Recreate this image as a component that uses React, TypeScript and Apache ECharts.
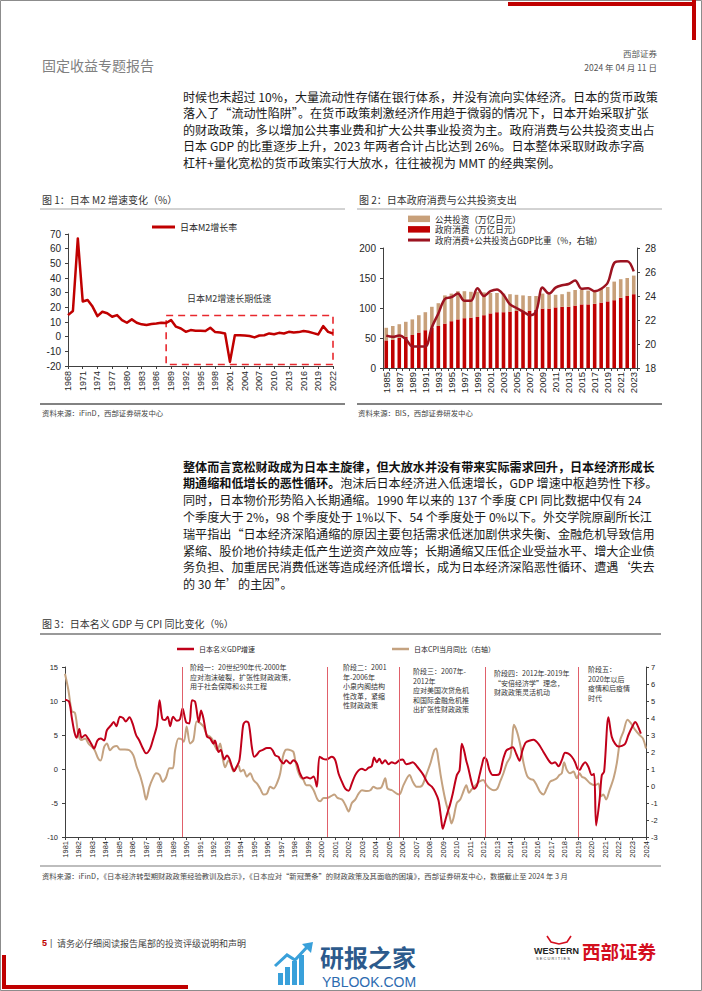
import React, { useEffect, useRef } from 'react';
import * as echarts from 'echarts';

const RED = '#C00000';
const TAN = '#C8A07A';
const DARK_RED = '#9C1320';
const LINE_RED = '#C0001A';
const LINE_TAN = '#C4A280';
const CJK = '"Noto Sans CJK SC", "Liberation Sans", sans-serif';
const NUM = '"Liberation Sans", "Noto Sans CJK SC", sans-serif';

function yearRange(a: number, b: number): string[] {
  const r: string[] = [];
  for (let y = a; y <= b; y++) r.push(String(y));
  return r;
}

// ---------- Figure 1: Japan M2 growth (%) ----------
const m2Years = yearRange(1968, 2022);
const m2Growth = [
  14.7, 17.5, 67, 24, 25, 20.5, 14, 17, 16, 13.6,
  14.7, 11.3, 9.5, 11.8, 9.5, 8.4, 7.9, 8.6, 9.0, 9.5,
  9.3, 11.3, 6.8, 5.6, 3.3, 4.5, 4.0, 4.0, 3.8, 6.1,
  3.1, 2.9, 2.2, -17.2, 1.0, 1.0, 0.8, 0.4, -0.5, 0.8,
  1.0, 2.2, 1.7, 2.6, 2.2, 3.3, 2.9, 3.1, 3.8, 3.3,
  2.4, 1.5, 7.2, 3.3, 2.2,
];
const m2LowBoxX = ['1988', '2022'];
const m2LowBoxY = [14.4, -19];

// ---------- Figure 2: government consumption & public investment ----------
const govYears = yearRange(1985, 2023);
const govConsumption = [
  46, 47, 50, 52, 55, 59, 63, 67, 70, 74,
  78, 81, 83, 84, 85, 88, 91, 93, 93, 94,
  95, 95, 95, 97, 99, 99, 101, 102, 102, 104,
  106, 106, 107, 109, 111, 113, 117, 120, 123,
];
const publicInvestment = [
  21, 23, 23, 25, 26, 29, 30, 35, 38, 47,
  46, 47, 45, 43, 42, 38, 34, 32, 31, 29,
  27, 26, 25, 23, 25, 23, 21, 21, 25, 26,
  24, 23, 23, 23, 24, 31, 31, 30, 31,
];
const govShareOfGDP = [
  20.7, 20.6, 20.7, 20.4, 19.8, 19.8, 19.8, 21.4, 22.55, 23.75,
  23.9, 24.2, 23.6, 23.6, 24.65, 24.0, 24.4, 24.55, 24.1, 23.3,
  23.0, 22.7, 22.4, 22.7, 24.7, 24.2, 24.7, 24.9, 25.0, 25.3,
  24.6, 24.65, 24.4, 24.6, 25.1, 26.75, 26.9, 26.9, 26.05,
];

// ---------- Figure 3: nominal GDP & CPI YoY ----------
const phaseStarts = [1989.67, 2000.42, 2005.75, 2012.08, 2019.0];
const gdpNominalYoY: [number, number][] = [
  [1981.0, 10.2], [1981.3, 9.9], [1981.5, 7.6], [1981.7, 5.4], [1981.86, 4.6], [1982.06, 5.9], [1982.23, 4.6],
  [1982.5, 5.0], [1982.7, 4.5], [1983.0, 3.5], [1983.15, 3.0], [1983.4, 4.2], [1983.64, 4.5], [1983.9, 4.2],
  [1984.1, 5.7], [1984.4, 6.4], [1984.6, 6.9], [1984.8, 6.3], [1985.07, 7.7], [1985.3, 7.5], [1985.5, 7.0],
  [1985.77, 7.6], [1986.0, 6.7], [1986.26, 5.0], [1986.5, 4.2], [1986.75, 3.1], [1987.0, 2.3], [1987.3, 3.0],
  [1987.54, 4.5], [1987.8, 6.4], [1988.0, 10.1], [1988.2, 7.4], [1988.4, 7.2], [1988.6, 7.7], [1988.78, 6.3],
  [1989.0, 7.7], [1989.27, 7.1], [1989.5, 7.3], [1989.7, 8.9], [1989.96, 6.9], [1990.2, 6.7], [1990.4, 10.1],
  [1990.63, 9.9], [1990.9, 6.9], [1991.07, 8.6], [1991.25, 7.4], [1991.5, 4.8], [1991.74, 4.5], [1992.0, 3.7],
  [1992.1, 4.2], [1992.36, 2.5], [1992.53, 2.8], [1992.78, 1.4], [1992.98, 2.0], [1993.17, 1.5], [1993.35, 0.4],
  [1993.52, -0.3], [1993.72, 0.4], [1993.91, 1.3], [1994.09, 4.7], [1994.21, 6.6], [1994.41, 7.0], [1994.58, 6.8],
  [1994.7, 5.4], [1994.83, 3.2], [1995.0, 1.8], [1995.2, 2.1], [1995.4, 2.6], [1995.64, 2.8], [1995.94, 3.1],
  [1996.19, 3.1], [1996.38, 2.7], [1996.56, 2.0], [1996.8, 1.8], [1996.93, 1.3], [1997.17, 0.8], [1997.37, 1.3],
  [1997.67, 0.8], [1997.9, 1.3], [1998.16, 0.8], [1998.4, -0.7], [1998.65, -1.4], [1998.9, -1.2], [1999.15, -1.4],
  [1999.4, -1.1], [1999.64, -2.6], [1999.84, 1.8], [2000.1, 1.5], [2000.33, 1.4], [2000.75, 1.8], [2001.0, 1.3],
  [2001.25, -0.7], [2001.5, -1.9], [2001.74, -2.9], [2001.99, -3.2], [2002.23, -2.1], [2002.48, -0.9],
  [2002.73, -0.2], [2002.98, 0.05], [2003.22, -0.2], [2003.47, 0.2], [2003.7, 0.4], [2003.88, 1.7], [2004.07, 1.0],
  [2004.27, 1.5], [2004.47, 0.8], [2004.69, 1.3], [2004.94, 0.7], [2005.19, 1.0], [2005.43, 0.8], [2005.75, 1.3],
  [2006.0, 1.4], [2006.25, 0.7], [2006.5, 0.8], [2006.74, 1.0], [2007.04, 0.4], [2007.28, -0.2], [2007.53, -0.9],
  [2007.73, -1.7], [2007.9, -2.2], [2008.15, -2.6], [2008.4, -3.4], [2008.64, -4.6], [2008.82, -7.0],
  [2008.96, -8.8], [2009.14, -7.6], [2009.31, -6.4], [2009.5, -5.2], [2009.7, -3.6], [2010.0, -0.9],
  [2010.2, -0.2], [2010.37, 3.7], [2010.54, 2.7], [2010.69, 1.3], [2010.86, 0.05], [2011.11, -2.1],
  [2011.28, -2.9], [2011.48, -2.5], [2011.68, -0.9], [2011.85, 0.5], [2012.03, 1.7], [2012.22, 1.3],
  [2012.42, -0.2], [2012.67, -0.9], [2012.91, -0.9], [2013.16, -0.7], [2013.41, 1.3], [2013.65, 2.7],
  [2013.9, 3.0], [2014.15, 3.2], [2014.4, 2.2], [2014.64, 1.2], [2014.85, 2.7], [2015.1, 3.9], [2015.42, 4.2],
  [2015.67, 4.3], [2016.04, 3.7], [2016.41, 2.5], [2016.78, 1.3], [2017.03, 0.8], [2017.27, 1.0], [2017.52, 0.4],
  [2017.77, 1.3], [2018.01, 2.4], [2018.26, 2.25], [2018.51, 1.8], [2018.75, 1.0], [2018.93, 0.05], [2019.1, -0.1],
  [2019.25, 0.4], [2019.5, 1.0], [2019.74, 0.3], [2019.99, -0.9], [2020.16, -0.7], [2020.31, -8.3],
  [2020.56, -4.6], [2020.73, -0.9], [2020.9, -0.4], [2021.22, 7.6], [2021.47, 4.7], [2021.72, 3.7],
  [2021.96, 3.3], [2022.21, 3.4], [2022.46, 3.7], [2022.7, 5.0], [2023.03, 6.4], [2023.2, 6.9], [2023.33, 6.6],
  [2023.62, 5.2],
];
const cpiYoY: [number, number][] = [
  [1981.0, 6.6], [1981.25, 5.65], [1981.5, 4.4], [1981.74, 4.3], [1982.0, 3.0], [1982.23, 2.7], [1982.5, 2.8],
  [1982.73, 2.5], [1983.0, 2.3], [1983.2, 2.1], [1983.47, 1.6], [1983.64, 1.5], [1983.9, 2.3], [1984.1, 2.5],
  [1984.33, 2.1], [1984.58, 2.3], [1984.83, 2.35], [1985.07, 2.15], [1985.44, 2.15], [1985.77, 2.1],
  [1986.06, 1.8], [1986.3, 1.15], [1986.56, 0.6], [1986.8, -0.1], [1987.0, -0.8], [1987.25, -0.05],
  [1987.5, 0.45], [1987.74, 0.75], [1988.0, 0.65], [1988.23, 0.25], [1988.48, 0.5], [1988.73, 1.05],
  [1988.98, 1.05], [1989.15, 2.1], [1989.4, 2.8], [1989.64, 2.75], [1989.8, 2.6], [1990.0, 3.5], [1990.26, 2.5],
  [1990.5, 2.7], [1990.75, 3.8], [1991.0, 3.7], [1991.25, 3.5], [1991.5, 3.0], [1991.74, 2.9], [1991.94, 2.7],
  [1992.1, 2.35], [1992.28, 2.1], [1992.48, 2.5], [1992.68, 1.6], [1992.85, 1.1], [1993.1, 1.5], [1993.35, 1.1],
  [1993.47, 0.85], [1993.67, 1.1], [1993.84, 1.2], [1994.0, 0.85], [1994.2, 0.95], [1994.46, 0.55], [1994.7, 0.75],
  [1994.95, 0.35], [1995.2, 0.15], [1995.44, -0.15], [1995.7, -0.5], [1995.94, -0.45], [1996.19, -0.05],
  [1996.43, -0.15], [1996.73, 0.25], [1996.93, 0.75], [1997.12, 1.7], [1997.3, 2.1], [1997.47, 2.15],
  [1997.72, 2.1], [1997.91, 2.0], [1998.04, 1.5], [1998.21, 0.95], [1998.41, 0.55], [1998.65, 0.35],
  [1998.85, 0.05], [1999.1, 0.05], [1999.4, -0.25], [1999.69, -0.8], [1999.89, -0.9], [2000.14, -0.7],
  [2000.38, -0.7], [2000.68, -0.6], [2000.93, -0.5], [2001.17, -0.7], [2001.5, -0.8], [2001.74, -1.1],
  [2001.99, -1.5], [2002.23, -1.0], [2002.48, -0.8], [2002.73, -0.45], [2002.98, -0.25], [2003.35, -0.3],
  [2003.6, -0.25], [2003.83, -0.05], [2004.1, -0.15], [2004.4, -0.1], [2004.7, 0.45], [2004.87, -0.15],
  [2005.2, -0.25], [2005.55, -0.45], [2005.75, -0.5], [2006.05, 0.05], [2006.5, 0.65], [2006.74, 0.25],
  [2007.04, -0.05], [2007.4, 0.0], [2007.78, 0.75], [2008.07, 1.4], [2008.32, 2.1], [2008.47, 2.2],
  [2008.64, 1.5], [2008.82, 0.55], [2009.0, -0.25], [2009.2, -1.0], [2009.45, -1.7], [2009.6, -2.2],
  [2009.75, -1.9], [2010.0, -1.0], [2010.25, -0.8], [2010.45, -0.4], [2010.7, 0.05], [2010.9, -0.4],
  [2011.1, -0.2], [2011.4, 0.05], [2011.65, 0.25], [2011.95, 0.35], [2012.2, 0.05], [2012.45, -0.15],
  [2012.75, -0.25], [2013.0, -0.15], [2013.2, 0.25], [2013.45, 0.75], [2013.7, 1.35], [2013.95, 1.7],
  [2014.08, 2.5], [2014.22, 3.6], [2014.45, 3.2], [2014.7, 2.4], [2014.95, 1.3], [2015.2, 0.6], [2015.45, 0.4],
  [2015.67, 0.35], [2015.91, 0.05], [2016.16, -0.35], [2016.41, -0.5], [2016.65, -0.15], [2016.9, 0.25],
  [2017.15, 0.35], [2017.4, 0.45], [2017.59, 0.65], [2017.77, 0.75], [2017.94, 1.4], [2018.14, 0.95],
  [2018.38, 0.75], [2018.63, 0.85], [2018.88, 0.45], [2019.08, 0.75], [2019.25, 0.55], [2019.5, 0.45],
  [2019.87, 0.15], [2020.24, 0.05], [2020.48, 0.15], [2020.68, -0.6], [2020.85, -0.5], [2021.05, -0.8],
  [2021.3, -0.25], [2021.6, 0.45], [2021.84, 1.35], [2022.09, 2.7], [2022.33, 3.2], [2022.63, 3.9],
  [2022.88, 3.7], [2023.2, 3.3], [2023.52, 3.0], [2023.77, 2.8], [2024.0, 2.2],
];

// ---------- Page texts ----------
const para1 = [
  '时候也未超过 10%，大量流动性存储在银行体系，并没有流向实体经济。日本的货币政策',
  '落入了“流动性陷阱”。在货币政策刺激经济作用趋于微弱的情况下，日本开始采取扩张',
  '的财政政策，多以增加公共事业费和扩大公共事业投资为主。政府消费与公共投资支出占',
  '日本 GDP 的比重逐步上升，2023 年两者合计占比达到 26%。日本整体采取财政赤字高',
  '杠杆+量化宽松的货币政策实行大放水，往往被视为 MMT 的经典案例。',
];
const para2 = [
  '{b|整体而言宽松财政成为日本主旋律，但大放水并没有带来实际需求回升，日本经济形成长}',
  '{b|期通缩和低增长的恶性循环。}泡沫后日本经济进入低速增长，GDP 增速中枢趋势性下移。',
  '同时，日本物价形势陷入长期通缩。1990 年以来的 137 个季度 CPI 同比数据中仅有 24',
  '个季度大于 2%，98 个季度处于 1%以下、54 个季度处于 0%以下。外交学院原副所长江',
  '瑞平指出“日本经济深陷通缩的原因主要包括需求低迷加剧供求失衡、金融危机导致信用',
  '紧缩、股价地价持续走低产生逆资产效应等；长期通缩又压低企业受益水平、增大企业债',
  '务负担、加重居民消费低迷等造成经济低增长，成为日本经济深陷恶性循环、遭遇‘失去',
  '的 30 年’的主因”。',
];
const phaseNotes = [
  ['阶段一：20世纪90年代-2000年', '应对泡沫破裂，扩张性财政政策，', '用于社会保障和公共工程'],
  ['阶段二：2001', '年-2006年', '小泉内阁结构', '性改革，紧缩', '性财政政策'],
  ['阶段三：2007年-', '2012年', '应对美国次贷危机', '和国际金融危机推', '出扩张性财政政策'],
  ['阶段四：2012年-2019年', '“安倍经济学”理念，', '财政政策灵活机动'],
  ['阶段五：', '2020年以后', '疫情和后疫情', '时代'],
];

function T(x: number, y: number, text: string, size: number, o: any = {}) {
  const align = o.align || 'left';
  const style: any = {
    text,
    fontSize: size,
    fontFamily: o.family || CJK,
    fontWeight: o.weight || 'normal',
    fill: o.color || '#1a1a1a',
    align,
    verticalAlign: 'middle',
    textAlign: align,
    textVerticalAlign: 'middle',
  };
  if (o.rich) style.rich = o.rich;
  return { type: 'text', x, y, silent: true, z: 10, style };
}
function R(x: number, y: number, w: number, h: number, fill: string) {
  return { type: 'rect', silent: true, shape: { x, y, width: w, height: h }, style: { fill } };
}
function L(x1: number, y1: number, x2: number, y2: number, stroke: string, lw: number) {
  return { type: 'line', silent: true, shape: { x1, y1, x2, y2 }, style: { stroke, lineWidth: lw } };
}

function buildGraphic() {
  const g: any[] = [];
  g.push({ type: 'rect', silent: true, shape: { x: 0.5, y: 0.5, width: 701, height: 990 }, style: { fill: 'none', stroke: '#8c8c8c', lineWidth: 1 } });
  // corner marks
  g.push(R(508, 2, 188, 4, RED));
  g.push(R(692, 0, 4, 40, RED));
  g.push(R(2, 955, 4, 34, RED));
  g.push(R(2, 985, 186, 4, RED));
  // header
  g.push(T(42, 65, '固定收益专题报告', 14, { color: '#808080' }));
  g.push(T(657, 53, '西部证券', 8.5, { align: 'right', color: '#555' }));
  g.push(T(657, 67, '2024 年 04 月 11 日', 8.5, { align: 'right', color: '#555' }));
  // paragraph 1
  para1.forEach((s, i) => g.push(T(183, 96 + i * 16.6, s, 12.1)));
  // figure titles / rules / sources
  g.push(T(42, 199, '图 1：日本 M2 增速变化（%）', 10, { color: '#333' }));
  g.push(T(359, 199, '图 2：日本政府消费与公共投资支出', 10, { color: '#333' }));
  g.push(L(40, 209, 345, 209, '#a6a6a6', 1));
  g.push(L(357, 209, 662, 209, '#a6a6a6', 1));
  g.push(L(40, 404, 345, 404, '#595959', 1.3));
  g.push(L(357, 404, 662, 404, '#595959', 1.3));
  g.push(T(42, 412, '资料来源：iFinD，西部证券研发中心', 7.4, { color: '#444' }));
  g.push(T(358, 412, '资料来源：BIS，西部证券研发中心', 7.4, { color: '#444' }));
  g.push(T(187, 298, '日本M2增速长期低速', 9, { color: '#333' }));
  // paragraph 2
  const rich = { b: { fontWeight: 'bold', fontSize: 12.1, fontFamily: CJK, fill: '#111', color: '#111' } };
  para2.forEach((s, i) => g.push(T(183, 466 + i * 16.8, s, 12.1, { rich })));
  // figure 3
  g.push(T(42, 623, '图 3：日本名义 GDP 与 CPI 同比变化（%）', 10, { color: '#333' }));
  g.push(L(40, 634, 661, 634, '#777', 1.5));
  g.push(L(40, 866, 661, 866, '#bdbdbd', 2));
  g.push(T(42, 876, '资料来源：iFinD，《日本经济转型期财政政策经验教训及启示》，《日本应对“新冠萧条”的财政政策及其面临的困境》，西部证券研发中心，数据截止至 2024 年 3 月', 7.3, { color: '#444' }));
  const noteX = [190, 343, 413, 494, 588];
  const noteY = [667, 667, 671, 673, 669];
  phaseNotes.forEach((lines, k) => {
    lines.forEach((s, j) => g.push(T(noteX[k], noteY[k] + j * 9.5, s, 7, { color: '#333' })));
  });
  // footer
  g.push(T(42, 943, '5', 9, { color: RED, weight: 'bold', family: NUM }));
  g.push(T(50, 943, '|', 9, { color: '#555', family: NUM }));
  g.push(T(57, 943, '请务必仔细阅读报告尾部的投资评级说明和声明', 9, { color: '#444' }));
  // watermark
  const wm = '#39A0DA';
  g.push(R(278, 973, 5, 12, wm));
  g.push(R(285, 967, 5, 18, wm));
  g.push(R(292, 961, 5, 24, wm));
  g.push(R(299, 955, 5, 30, wm));
  g.push({ type: 'polyline', silent: true, shape: { points: [[275, 966], [287, 955], [295, 960], [308, 946]] }, style: { stroke: wm, lineWidth: 3, fill: 'none' } });
  g.push({ type: 'polygon', silent: true, shape: { points: [[302, 944], [313, 942], [311, 953]] }, style: { fill: wm } });
  g.push(T(320, 956.5, '研报之家', 24, { color: '#2C5A8C', weight: 'bold' }));
  g.push(T(322, 981.5, 'YBLOOK.COM', 14, { color: '#2C6BB0', family: NUM }));
  // company logo
  g.push({ type: 'polyline', silent: true, shape: { points: [[547, 936], [551, 942], [559, 944], [567, 942], [571, 936]] }, style: { stroke: '#D40F1E', lineWidth: 1.6, fill: 'none' } });
  g.push(T(534, 951, 'WESTERN', 9, { color: '#222', weight: 'bold', family: NUM }));
  g.push(T(536, 958.5, 'S E C U R I T I E S', 4, { color: '#444', family: NUM }));
  g.push(T(582, 951, '西部证券', 18.5, { color: '#D40F1E', weight: 'bold' }));
  return g;
}

const axisCol = '#404040';
const baseAxis = (extra: any = {}) => ({
  axisLine: { show: true, onZero: false, lineStyle: { color: axisCol, width: 1 } },
  axisTick: { show: true, length: 3, lineStyle: { color: axisCol } },
  splitLine: { show: false },
  ...extra,
});

function legendText(size: number, lh: number) {
  return { fontSize: size, color: '#262626', fontFamily: CJK, lineHeight: lh };
}

function buildOption() {
  return {
    animation: false,
    backgroundColor: '#ffffff',
    textStyle: { fontFamily: NUM },
    grid: [
      { left: 68, top: 234, width: 265, height: 132, outerBoundsMode: 'none' },
      { left: 383, top: 248, width: 254, height: 120, outerBoundsMode: 'none' },
      { left: 65, top: 667, width: 581, height: 170, outerBoundsMode: 'none' },
    ],
    legend: [
      {
        data: ['日本M2增长率'], icon: 'rect', left: 152, top: 221.6, padding: 0, itemGap: 0,
        itemWidth: 23, itemHeight: 3, textStyle: legendText(9, 10.8),
      },
      {
        data: ['公共投资（万亿日元）', '政府消费（万亿日元）'], icon: 'rect',
        orient: 'vertical', left: 408, top: 213.8, padding: 0, itemGap: 0.4,
        itemWidth: 22, itemHeight: 6.5, textStyle: legendText(8.6, 10.1),
      },
      {
        data: ['政府消费+公共投资占GDP比重（%，右轴）'], icon: 'rect',
        left: 408, top: 235, padding: 0, itemGap: 0,
        itemWidth: 22, itemHeight: 3, textStyle: legendText(8.6, 10.1),
      },
      {
        data: ['日本名义GDP增速'], icon: 'rect', left: 177, top: 644.8, padding: 0, itemGap: 0,
        itemWidth: 17, itemHeight: 2.5, textStyle: legendText(7, 8.4),
      },
      {
        data: ['日本CPI当月同比（右轴）'], icon: 'rect', left: 392, top: 644.8, padding: 0, itemGap: 0,
        itemWidth: 17, itemHeight: 2.5, textStyle: legendText(7, 8.4),
      },
    ],
    xAxis: [
      {
        type: 'category', gridIndex: 0, data: m2Years, boundaryGap: false,
        ...baseAxis({ axisTick: { show: true, length: 3, interval: 2, lineStyle: { color: axisCol } } }),
        axisLabel: { interval: 2, rotate: 90, fontSize: 9, color: '#262626', margin: 5, fontFamily: NUM },
      },
      {
        type: 'category', gridIndex: 1, data: govYears, boundaryGap: true,
        ...baseAxis({ axisTick: { show: true, length: 3, interval: 0, lineStyle: { color: axisCol } } }),
        axisLabel: { interval: 1, rotate: 90, fontSize: 9.5, color: '#262626', margin: 4, fontFamily: NUM },
      },
      {
        type: 'value', gridIndex: 2, min: 1981, max: 2024, interval: 1,
        ...baseAxis(),
        axisLabel: {
          rotate: 90, fontSize: 7.5, color: '#262626', margin: 4, fontFamily: NUM,
          formatter: (v: number) => String(Math.round(v)),
        },
      },
    ],
    yAxis: [
      {
        type: 'value', gridIndex: 0, min: -20, max: 70, interval: 10, ...baseAxis(),
        axisLabel: { fontSize: 10, color: '#262626', margin: 7, fontFamily: NUM },
      },
      {
        type: 'value', gridIndex: 1, min: 0, max: 200, interval: 50, ...baseAxis(),
        axisLabel: { fontSize: 10, color: '#262626', margin: 7, fontFamily: NUM },
      },
      {
        type: 'value', gridIndex: 1, position: 'right', min: 18, max: 28, interval: 2, ...baseAxis(),
        axisLabel: { fontSize: 10, color: '#262626', margin: 8, fontFamily: NUM },
      },
      {
        type: 'value', gridIndex: 2, min: -10, max: 15, interval: 5, ...baseAxis(),
        axisLabel: { fontSize: 7.5, color: '#262626', margin: 7, fontFamily: NUM },
      },
      {
        type: 'value', gridIndex: 2, position: 'right', min: -3, max: 7, interval: 1, ...baseAxis(),
        axisLabel: { fontSize: 7.5, color: '#262626', margin: 5, fontFamily: NUM },
      },
    ],
    series: [
      {
        name: '日本M2增长率', type: 'line', xAxisIndex: 0, yAxisIndex: 0, data: m2Growth,
        symbol: 'none', smooth: false,
        lineStyle: { color: RED, width: 2.5, join: 'round' }, itemStyle: { color: RED },
        markArea: {
          silent: true,
          label: { show: false },
          itemStyle: { color: 'rgba(0,0,0,0)', borderColor: '#E8282E', borderWidth: 1.6, borderType: [7, 5] },
          data: [[{ xAxis: m2LowBoxX[0], yAxis: m2LowBoxY[0] }, { xAxis: m2LowBoxX[1], yAxis: m2LowBoxY[1] }]],
        },
      },
      {
        name: '政府消费（万亿日元）', type: 'bar', xAxisIndex: 1, yAxisIndex: 1, stack: 'gov',
        data: govConsumption, barWidth: '55%', itemStyle: { color: RED },
      },
      {
        name: '公共投资（万亿日元）', type: 'bar', xAxisIndex: 1, yAxisIndex: 1, stack: 'gov',
        data: publicInvestment, barWidth: '55%', itemStyle: { color: TAN },
      },
      {
        name: '政府消费+公共投资占GDP比重（%，右轴）', type: 'line', xAxisIndex: 1, yAxisIndex: 2,
        data: govShareOfGDP, symbol: 'none', smooth: 0.35,
        lineStyle: { color: DARK_RED, width: 2.5 }, itemStyle: { color: DARK_RED },
      },
      {
        name: '日本CPI当月同比（右轴）', type: 'line', xAxisIndex: 2, yAxisIndex: 4,
        data: cpiYoY, symbol: 'none', smooth: 0.3,
        lineStyle: { color: LINE_TAN, width: 2 }, itemStyle: { color: LINE_TAN },
      },
      {
        name: '日本名义GDP增速', type: 'line', xAxisIndex: 2, yAxisIndex: 3,
        data: gdpNominalYoY, symbol: 'none', smooth: 0.3,
        lineStyle: { color: LINE_RED, width: 2 }, itemStyle: { color: LINE_RED },
        markLine: {
          silent: true, symbol: ['none', 'none'], label: { show: false },
          lineStyle: { color: '#E0606A', width: 1, type: 'solid' },
          data: phaseStarts.map((x) => ({ xAxis: x })),
        },
      },
    ],
    graphic: { elements: buildGraphic() },
  };
}

export default function App() {
  const ref = useRef<HTMLDivElement>(null);
  useEffect(() => {
    document.body.style.margin = '0';
    const chart = echarts.init(ref.current as HTMLDivElement, null, { renderer: 'svg', width: 702, height: 991 });
    chart.setOption(buildOption() as any);
    return () => chart.dispose();
  }, []);
  return (
    <div
      ref={ref}
      style={{ position: 'absolute', left: 0, top: 0, width: 702, height: 991, background: '#fff' }}
    />
  );
}
